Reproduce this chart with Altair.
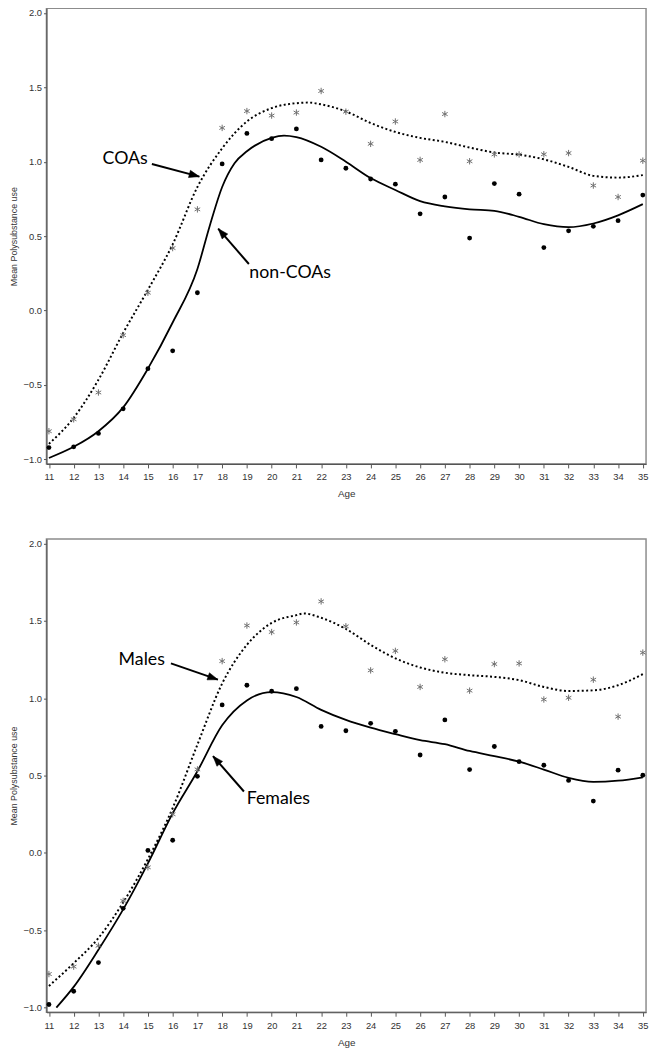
import math
import altair as alt
import pandas as pd

AGES = list(range(11, 36))

# ---- Panel 1: COAs vs non-COAs (observed means) ----
COA_OBS = [-0.81, -0.73, -0.55, -0.165, 0.12, 0.42, 0.68, 1.227, 1.34, 1.31, 1.33, 1.475, 1.336,
           1.12, 1.27, 1.012, 1.32, 1.003, 1.049, 1.049, 1.05, 1.058, 0.84, 0.763, 1.007]
NONCOA_OBS = [-0.92, -0.915, -0.825, -0.66, -0.39, -0.27, 0.12, 0.985, 1.19, 1.155, 1.22, 1.012, 0.956,
              0.884, 0.849, 0.65, 0.763, 0.487, 0.853, 0.782, 0.423, 0.536, 0.566, 0.604, 0.776]

# fitted curves
COA_CURVE_AGES = [11, 12, 13, 14, 15, 16, 17, 18, 19, 20, 21, 21.5, 22, 23, 24, 25, 26, 27, 28, 29, 30, 31, 32, 33, 34, 35]
COA_CURVE = [-0.895, -0.72, -0.465, -0.15, 0.14, 0.445, 0.83, 1.09, 1.27, 1.36, 1.393, 1.397, 1.385, 1.338,
             1.26, 1.20, 1.16, 1.133, 1.095, 1.062, 1.047, 1.016, 0.965, 0.905, 0.893, 0.91]
NONCOA_CURVE_AGES = [11, 12, 13, 14, 15, 16, 17, 17.5, 18, 18.5, 19, 20, 20.5, 21, 22, 23, 24, 25, 26, 27, 28, 29, 30, 31, 32, 33, 34, 35]
NONCOA_CURVE = [-0.99, -0.915, -0.81, -0.65, -0.39, -0.08, 0.28, 0.57, 0.83, 0.99, 1.07, 1.16, 1.175, 1.165,
                1.10, 1.00, 0.89, 0.81, 0.735, 0.70, 0.68, 0.67, 0.63, 0.58, 0.56, 0.585, 0.64, 0.715]

# ---- Panel 2: Males vs Females (observed means) ----
MALE_OBS = [-0.783, -0.735, -0.6, -0.31, -0.093, 0.25, 0.54, 1.24, 1.47, 1.428, 1.49, 1.626, 1.465,
            1.18, 1.306, 1.073, 1.252, 1.049, 1.221, 1.225, 0.992, 1.003, 1.12, 0.881, 1.295]
FEMALE_OBS = [-0.98, -0.894, -0.709, -0.358, 0.016, 0.082, 0.495, 0.957, 1.084, 1.045, 1.062, 0.818, 0.79,
              0.838, 0.786, 0.633, 0.86, 0.539, 0.688, 0.59, 0.567, 0.469, 0.335, 0.535, 0.502]

MALE_CURVE_AGES = [11, 12, 13, 14, 15, 16, 17, 18, 19, 20, 21, 21.3, 22, 23, 24, 25, 26, 27, 28, 29, 30, 31, 32, 33, 34, 35]
MALE_CURVE = [-0.86, -0.713, -0.55, -0.32, -0.04, 0.29, 0.70, 1.095, 1.345, 1.487, 1.537, 1.548, 1.52, 1.448,
              1.345, 1.258, 1.199, 1.165, 1.149, 1.138, 1.117, 1.073, 1.047, 1.051, 1.084, 1.156]
FEMALE_CURVE_AGES = [11.3, 12, 13, 14, 15, 16, 17, 18, 19, 20, 21, 22, 23, 24, 25, 26, 27, 28, 29, 30, 31, 32, 33, 34, 35]
FEMALE_CURVE = [-1.0, -0.866, -0.626, -0.365, -0.067, 0.256, 0.528, 0.825, 0.986, 1.04, 1.008, 0.925, 0.86,
                0.81, 0.768, 0.729, 0.703, 0.659, 0.626, 0.59, 0.539, 0.485, 0.459, 0.467, 0.489]

# annotations: label text, label position (age, value), arrow tail and tip (age, value)
TOP_LABELS = ["COAs", "non-COAs"]
TOP_LABEL_POS = [(14.08, 1.02), (20.75, 0.25)]
TOP_ARROWS = [((15.16, 0.985), (17.08, 0.90)), ((19.08, 0.313), (17.84, 0.55))]
BOT_LABELS = ["Males", "Females"]
BOT_LABEL_POS = [(14.75, 1.247), (20.27, 0.348)]
BOT_ARROWS = [((15.93, 1.225), (17.83, 1.12)), ((18.88, 0.397), (17.63, 0.626))]

Y_TICKS = [-1.0, -0.5, 0.0, 0.5, 1.0, 1.5, 2.0]
X_DOMAIN = [10.9, 35.13]
Y_DOMAIN = [-1.03, 2.03]

W = 608
ASTERISK = "M0,-1L0,1M-0.87,-0.5L0.87,0.5M-0.87,0.5L0.87,-0.5"
ARROWHEAD = "M0,0L-0.8,2.2L0.8,2.2Z"


def panel(star_obs, dot_obs, dot_ages, dot_curve, sol_ages, sol_curve, labels, label_pos, arrows, height):
    xs = alt.Scale(domain=X_DOMAIN, nice=False, zero=False)
    ys = alt.Scale(domain=Y_DOMAIN, nice=False, zero=False)
    xax = alt.Axis(values=AGES, format="d", title="Age", labelAngle=0, tickSize=4,
                   labelPadding=4, titlePadding=8, titleFontSize=10)
    yax = alt.Axis(values=Y_TICKS, format=".1f", title="Mean Polysubstance use", tickSize=3,
                   labelPadding=2, titlePadding=5, titleFontSize=9)
    X = alt.X("age:Q", scale=xs, axis=xax)
    Y = alt.Y("value:Q", scale=ys, axis=yax)

    sol_df = pd.DataFrame({"age": sol_ages, "value": sol_curve})
    dot_df = pd.DataFrame({"age": dot_ages, "value": dot_curve})
    star_df = pd.DataFrame({"age": AGES, "value": star_obs})
    pt_df = pd.DataFrame({"age": AGES, "value": dot_obs})

    solid = alt.Chart(sol_df).mark_line(color="black", strokeWidth=1.8, interpolate="monotone",
                                        clip=True).encode(x=X, y=Y)
    dotted = alt.Chart(dot_df).mark_line(color="black", strokeWidth=2, strokeDash=[2, 2.5],
                                         interpolate="monotone", clip=True).encode(x=X, y=Y)
    stars = alt.Chart(star_df).mark_point(shape=ASTERISK, filled=False, size=42, color="#6e6e6e",
                                          strokeWidth=1, opacity=1).encode(x=X, y=Y)
    dots = alt.Chart(pt_df).mark_point(shape="circle", filled=True, size=24, color="black",
                                       opacity=1).encode(x=X, y=Y)

    lab_df = pd.DataFrame({"age": [p[0] for p in label_pos], "value": [p[1] for p in label_pos],
                           "text": labels})
    texts = alt.Chart(lab_df).mark_text(font="Lato", fontSize=18, color="black", align="center",
                                        baseline="middle").encode(x=X, y=Y, text="text:N")

    sx = W / (X_DOMAIN[1] - X_DOMAIN[0])
    sy = height / (Y_DOMAIN[1] - Y_DOMAIN[0])
    rows = []
    for (a0, v0), (a1, v1) in arrows:
        dx = (a1 - a0) * sx
        dy = -(v1 - v0) * sy
        ang = math.degrees(math.atan2(dx, -dy)) % 360
        rows.append({"age": a1, "value": v1, "age0": a0, "value0": v0, "ang": ang})
    arr_df = pd.DataFrame(rows)
    shafts = alt.Chart(arr_df).mark_rule(color="black", strokeWidth=2).encode(
        x=X, y=Y, x2="age0:Q", y2="value0:Q")
    heads = alt.Chart(arr_df).mark_point(shape=ARROWHEAD, filled=True, size=90, fill="black",
                                         stroke="black", strokeWidth=0.5, opacity=1).encode(
        x=X, y=Y, angle=alt.Angle("ang:Q", scale=None))

    return alt.layer(solid, dotted, stars, dots, shafts, heads, texts).properties(width=W, height=height)


top = panel(COA_OBS, NONCOA_OBS, COA_CURVE_AGES, COA_CURVE, NONCOA_CURVE_AGES, NONCOA_CURVE,
            TOP_LABELS, TOP_LABEL_POS, TOP_ARROWS, 462)
bottom = panel(MALE_OBS, FEMALE_OBS, MALE_CURVE_AGES, MALE_CURVE, FEMALE_CURVE_AGES, FEMALE_CURVE,
               BOT_LABELS, BOT_LABEL_POS, BOT_ARROWS, 480)

chart = alt.vconcat(top, bottom, spacing=37).properties(
    padding={"left": 0, "top": -9, "right": 0, "bottom": 0}
).configure_view(
    stroke="#8c8c8c", strokeWidth=1.5
).configure_axis(
    grid=False, domainColor="#555555", tickColor="#555555", labelColor="#333333",
    titleColor="#333333", labelFont="Liberation Sans", titleFont="Liberation Sans",
    labelFontSize=9.5, titleFontWeight="normal", domainWidth=1.2
)

chart.save("out.html", embed_options={"renderer": "svg", "actions": False})
